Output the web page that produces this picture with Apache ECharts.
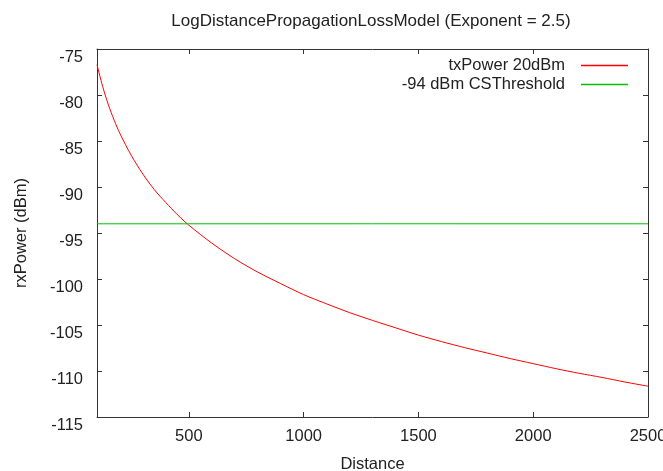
<!DOCTYPE html>
<html>
<head>
<meta charset="utf-8">
<script src="https://cdn.jsdelivr.net/npm/echarts@6/dist/echarts.min.js"></script>
<style>
html,body{margin:0;padding:0;background:#fff;}
#chart{width:663px;height:471px;}
</style>
</head>
<body>
<div id="chart"></div>
<script>
// Data
var distances = [100, 125, 150, 175, 200, 250, 300, 350, 400, 450, 500, 600, 700, 800, 900, 1000, 1100, 1200, 1300, 1400, 1500, 1600, 1700, 1800, 1900, 2000, 2100, 2200, 2300, 2400, 2500];
var rxPower = [-76.7, -79.1, -81.1, -82.75, -84.2, -86.6, -88.6, -90.3, -91.7, -93.0, -94.15, -96.1, -97.8, -99.25, -100.5, -101.7, -102.7, -103.65, -104.5, -105.3, -106.1, -106.8, -107.45, -108.05, -108.65, -109.2, -109.75, -110.25, -110.7, -111.2, -111.65];
var thresholdX = [100, 2500];
var thresholdY = [-94, -94];
var xTicks = [500, 1000, 1500, 2000, 2500];
var yTicks = [-115, -110, -105, -100, -95, -90, -85, -80, -75];
var seriesNames = ['txPower 20dBm', '-94 dBm CSThreshold'];
var seriesColors = ['#ff0000', '#00c000'];
var titleText = 'LogDistancePropagationLossModel (Exponent = 2.5)';
var xName = 'Distance';
var yName = 'rxPower (dBm)';

var FONT = 'Liberation Sans';
var TXT = '#222';
var AX = '#333';
var FS = 16.5;

function pairs(xs, ys) { return xs.map(function (x, i) { return [x, ys[i]]; }); }

var chart = echarts.init(document.getElementById('chart'), null, { renderer: 'canvas' });
function legendFor(i, top) {
  return {
    data: [{ name: seriesNames[i], icon: 'rect', itemStyle: { color: seriesColors[i], borderWidth: 0 } }],
    right: 30, top: top, orient: 'vertical', align: 'right',
    itemWidth: 47, itemHeight: 1.6,
    itemStyle: { color: seriesColors[i], borderWidth: 0 },
    lineStyle: { width: 0 },
    textStyle: { fontFamily: FONT, fontSize: FS, color: TXT, padding: [0, 11, 0, 0] }
  };
}
var option = {
  animation: false,
  backgroundColor: '#fff',
  title: {
    text: titleText,
    left: 366, top: 8, textAlign: 'center',
    textStyle: { fontFamily: FONT, fontSize: 17, fontWeight: 'normal', color: TXT }
  },
  legend: [legendFor(0, 52), legendFor(1, 71)],
  grid: { left: 97, right: 15, top: 49, bottom: 54, containLabel: false, outerBoundsMode: 'none' },
  xAxis: [
    {
      type: 'value', min: 100, max: 2500, position: 'bottom',
      name: xName, nameLocation: 'middle', nameGap: 39,
      nameTextStyle: { fontFamily: FONT, fontSize: FS, color: TXT },
      axisLine: { show: true, lineStyle: { color: AX, width: 1 } },
      axisTick: { show: true, inside: true, length: 5, customValues: xTicks, lineStyle: { color: AX } },
      axisLabel: { customValues: xTicks, margin: 11, fontFamily: FONT, fontSize: FS, color: TXT,
        formatter: function (v) { return String(v); } },
      splitLine: { show: false }
    },
    {
      type: 'value', min: 100, max: 2500, position: 'top',
      axisLine: { show: true, lineStyle: { color: AX, width: 1 } },
      axisTick: { show: true, inside: true, length: 5, customValues: xTicks, lineStyle: { color: AX } },
      axisLabel: { show: false },
      splitLine: { show: false }
    }
  ],
  yAxis: [
    {
      type: 'value', min: -115, max: -75, interval: 5, position: 'left',
      name: yName, nameLocation: 'middle', nameGap: 67, nameRotate: 90,
      nameTextStyle: { fontFamily: FONT, fontSize: FS, color: TXT },
      axisLine: { show: true, lineStyle: { color: AX, width: 1 } },
      axisTick: { show: true, inside: true, length: 5, lineStyle: { color: AX } },
      axisLabel: { margin: 14, verticalAlign: 'top', fontFamily: FONT, fontSize: FS, color: TXT,
        formatter: function (v) { return yTicks.indexOf(v) >= 0 ? String(v) : ''; } },
      splitLine: { show: false }
    },
    {
      type: 'value', min: -115, max: -75, interval: 5, position: 'right',
      axisLine: { show: true, lineStyle: { color: AX, width: 1 } },
      axisTick: { show: true, inside: true, length: 5, lineStyle: { color: AX } },
      axisLabel: { show: false },
      splitLine: { show: false }
    }
  ],
  series: [
    {
      name: seriesNames[0], type: 'line', xAxisIndex: 0, yAxisIndex: 0,
      data: pairs(distances, rxPower), smooth: 0.3, showSymbol: false, symbol: 'none',
      color: seriesColors[0], lineStyle: { color: seriesColors[0], width: 1 }
    },
    {
      name: seriesNames[1], type: 'line', xAxisIndex: 0, yAxisIndex: 0,
      data: pairs(thresholdX, thresholdY), showSymbol: false, symbol: 'none',
      color: seriesColors[1], lineStyle: { color: seriesColors[1], width: 1 }
    }
  ]
};
chart.setOption(option);
</script>
</body>
</html>
